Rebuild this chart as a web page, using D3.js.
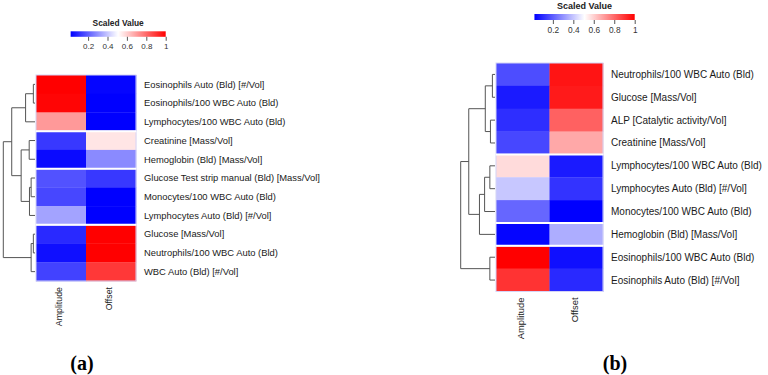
<!DOCTYPE html>
<html>
<head>
<meta charset="utf-8">
<script src="https://cdn.jsdelivr.net/npm/d3@7"></script>
<style>
  body { margin: 0; background: #fff; }
  text { font-family: "Liberation Sans", Arial, sans-serif; }
</style>
</head>
<body>
<script>
// column names shared by both heatmaps
var columns = ["Amplitude", "Offset"];
var legendTicks = [0.2, 0.4, 0.6, 0.8, 1];

// panel (a)
var rowsA = ["Eosinophils Auto (Bld) [#/Vol]", "Eosinophils/100 WBC Auto (Bld)",
  "Lymphocytes/100 WBC Auto (Bld)", "Creatinine [Mass/Vol]", "Hemoglobin (Bld) [Mass/Vol]",
  "Glucose Test strip manual (Bld) [Mass/Vol]", "Monocytes/100 WBC Auto (Bld)",
  "Lymphocytes Auto (Bld) [#/Vol]", "Glucose [Mass/Vol]", "Neutrophils/100 WBC Auto (Bld)",
  "WBC Auto (Bld) [#/Vol]"];
var ampA = [1.0, 0.99, 0.70, 0.11, 0.02, 0.16, 0.14, 0.32, 0.08, 0.03, 0.13];
var offA = [0.01, 0.0, 0.0, 0.55, 0.27, 0.11, 0.0, 0.0, 1.0, 1.0, 0.89];
var breaksA = [3, 5, 8];
// dendrogram: [height, left, right], leaves are row indexes
var treeA = [1.0,
  [0.734, [0.297, [0.052, 0, 1], 2], [0.437, [0.183, 3, 4], [0.174, [0.122, 5, 6], 7]]],
  [0.122, [0.052, 8, 9], 10]];

// panel (b)
var rowsB = ["Neutrophils/100 WBC Auto (Bld)", "Glucose [Mass/Vol]", "ALP [Catalytic activity/Vol]",
  "Creatinine [Mass/Vol]", "Lymphocytes/100 WBC Auto (Bld)", "Lymphocytes Auto (Bld) [#/Vol]",
  "Monocytes/100 WBC Auto (Bld)", "Hemoglobin (Bld) [Mass/Vol]", "Eosinophils/100 WBC Auto (Bld)",
  "Eosinophils Auto (Bld) [#/Vol]"];
var ampB = [0.15, 0.05, 0.09, 0.14, 0.57, 0.39, 0.20, 0.01, 1.0, 0.90];
var offB = [0.96, 0.95, 0.81, 0.67, 0.05, 0.10, 0.0, 0.34, 0.03, 0.08];
var breaksB = [4, 7, 8];
var treeB = [1.0,
  [0.765, [0.283, [0.076, 0, 1], [0.133, 2, 3]], [0.453, [0.303, [0.150, 4, 5], 6], 7]],
  [0.150, 8, 9]];

var W = 768, H = 375;
var color = d3.scaleLinear().domain([0, 0.5, 1]).range(["#0000ff", "#ffffff", "#ff0000"]);

var svg = d3.select("body").append("svg").attr("width", W).attr("height", H);
svg.append("rect").attr("width", W).attr("height", H).attr("fill", "#fff");

// gradient for the colour keys
var grad = svg.append("defs").append("linearGradient").attr("id", "key");
d3.range(0, 1.01, 0.1).forEach(function(t) {
  grad.append("stop").attr("offset", t).attr("stop-color", color(t));
});

function drawKey(o) {
  var g = svg.append("g");
  var x = d3.scaleLinear().domain([0, 1]).range([o.x0, o.x1]);
  g.append("rect").attr("x", x(0.02)).attr("y", o.y).attr("width", x(1) - x(0.02))
    .attr("height", o.h).attr("fill", "url(#key)");
  g.append("text").attr("x", (x(0.02) + x(1)) / 2).attr("y", o.y - 5)
    .attr("text-anchor", "middle").attr("font-weight", "bold").attr("font-size", o.tfs)
    .attr("fill", "#222").text("Scaled Value");
  var ax = d3.axisBottom(x).tickValues(legendTicks).tickSize(4).tickPadding(3)
    .tickFormat(d3.format("~g"));
  var a = g.append("g").attr("transform", "translate(0," + (o.y + o.h) + ")").call(ax);
  a.select(".domain").remove();
  a.selectAll("line").attr("stroke", "#555");
  a.selectAll("text").attr("font-size", o.fs).attr("fill", "#333");
}

function drawHeatmap(o) {
  var g = svg.append("g");
  var n = o.rows.length;
  var x = d3.scaleBand().domain(columns).range([o.x0, o.x1]);
  var y = d3.scaleBand().domain(d3.range(n)).range([o.y0, o.y1]);
  var cells = [];
  o.rows.forEach(function(r, i) {
    cells.push({ c: columns[0], i: i, v: o.amp[i] });
    cells.push({ c: columns[1], i: i, v: o.off[i] });
  });
  g.selectAll("rect.cell").data(cells).enter().append("rect")
    .attr("class", "cell")
    .attr("x", function(d) { return x(d.c); })
    .attr("y", function(d) { return y(d.i); })
    .attr("width", x.bandwidth() + 0.3)
    .attr("height", y.bandwidth() + 0.3)
    .attr("fill", function(d) { return color(d.v); });

  // group outlines and white gaps between row clusters
  var edges = [0].concat(o.breaks).concat([n]);
  var groups = d3.pairs(edges);
  g.selectAll("rect.grp").data(groups).enter().append("rect")
    .attr("x", o.x0).attr("width", o.x1 - o.x0)
    .attr("y", function(d) { return y(d[0]); })
    .attr("height", function(d) { return y.step() * (d[1] - d[0]); })
    .attr("fill", "none").attr("stroke", "#d4d4f6").attr("stroke-width", 1);
  g.selectAll("line.gap").data(o.breaks).enter().append("line")
    .attr("x1", o.x0 - 0.5).attr("x2", o.x1 + 0.5)
    .attr("y1", function(d) { return y(d); }).attr("y2", function(d) { return y(d); })
    .attr("stroke", "#fff").attr("stroke-width", 2);

  // row labels
  g.selectAll("text.row").data(o.rows).enter().append("text")
    .attr("x", o.x1 + 8)
    .attr("y", function(d, i) { return y(i) + y.bandwidth() / 2; })
    .attr("dy", "0.35em").attr("font-size", o.fs).attr("fill", "#1a1a1a")
    .text(function(d) { return d; });

  // column labels
  g.selectAll("text.col").data(columns).enter().append("text")
    .attr("transform", function(d) {
      return "translate(" + (x(d) + x.bandwidth() / 2 - 2) + "," + (o.y1 + 6) + ") rotate(-90)";
    })
    .attr("text-anchor", "end").attr("dy", "0.35em")
    .attr("font-size", o.cfs).attr("fill", "#1a1a1a")
    .text(function(d) { return d; });

  // dendrogram
  var root = d3.hierarchy(o.tree, function(d) { return Array.isArray(d) ? d.slice(1) : null; });
  var hx = d3.scaleLinear().domain([0, 1]).range([o.x0 - 1, o.dx]);
  root.eachAfter(function(nd) {
    if (nd.children) {
      nd.h = nd.data[0];
      nd.py = (nd.children[0].py + nd.children[1].py) / 2;
    } else {
      nd.h = 0;
      nd.py = y(nd.data) + y.bandwidth() / 2;
    }
  });
  var lines = [];
  root.each(function(nd) {
    if (!nd.children) return;
    var a = nd.children[0], b = nd.children[1];
    lines.push([hx(a.h), a.py, hx(nd.h), a.py]);
    lines.push([hx(nd.h), a.py, hx(nd.h), b.py]);
    lines.push([hx(nd.h), b.py, hx(b.h), b.py]);
  });
  g.selectAll("line.dend").data(lines).enter().append("line")
    .attr("x1", function(d) { return d[0]; }).attr("y1", function(d) { return d[1]; })
    .attr("x2", function(d) { return d[2]; }).attr("y2", function(d) { return d[3]; })
    .attr("stroke", "#555").attr("stroke-width", 1);

  // panel tag in a bold serif face
  svg.append("text").attr("x", o.labX).attr("y", 370)
    .attr("text-anchor", "middle")
    .style("font-family", "'Liberation Serif', 'Times New Roman', serif")
    .attr("font-weight", "bold").attr("font-size", 20).attr("fill", "#000")
    .text(o.tag);
}

drawKey({ x0: 68.7, x1: 165.7, y: 31.3, h: 5.5, fs: 8, tfs: 8.4 });
drawKey({ x0: 532.4, x1: 634.7, y: 14, h: 6, fs: 8.3, tfs: 9 });

drawHeatmap({ rows: rowsA, amp: ampA, off: offA, breaks: breaksA, tree: treeA,
  x0: 36, x1: 136, y0: 75, y1: 281, dx: 3.3, fs: 9.4, cfs: 8.8, labX: 82, tag: "(a)" });
drawHeatmap({ rows: rowsB, amp: ampB, off: offB, breaks: breaksB, tree: treeB,
  x0: 496, x1: 603, y0: 63, y1: 291.5, dx: 460.7, fs: 10, cfs: 9.4, labX: 615, tag: "(b)" });
</script>
</body>
</html>
